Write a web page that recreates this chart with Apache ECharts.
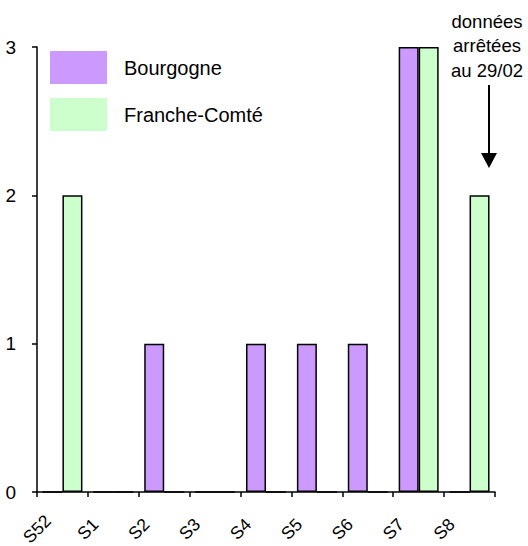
<!DOCTYPE html>
<html>
<head>
<meta charset="utf-8">
<script src="https://cdn.jsdelivr.net/npm/echarts@6/dist/echarts.min.js"></script>
<style>html,body{margin:0;padding:0;background:#fff}#c{width:528px;height:546px}</style>
</head>
<body>
<div id="c"></div>
<script>
var categories = ['S52','S1','S2','S3','S4','S5','S6','S7','S8'];
var tickLabels = ['S52','S1','S2','S3','S4','S5','S6','S7','S8',''];
var bourgogne = [0,0,1,0,1,1,1,3,0];
var francheComte = [2,0,0,0,0,0,0,3,2];
var yTicks = [0,1,2,3];
var note = 'données\narrêtées\nau 29/02';

var font = 'Liberation Sans, Arial, sans-serif';
var chart = echarts.init(document.getElementById('c'), null, {renderer:'svg'});
chart.setOption({
  animation:false,
  backgroundColor:'#fff',
  grid:{left:37,right:33,top:47,bottom:54,containLabel:false,outerBoundsMode:'none'},
  legend:{
    orient:'vertical', left:50, top:51, itemWidth:57, itemHeight:33, itemGap:14, padding:0,
    icon:'rect',
    itemStyle:{borderWidth:0},
    textStyle:{fontFamily:font,fontSize:20,color:'#000',padding:[0,0,0,12]},
    data:['Bourgogne','Franche-Comté']
  },
  xAxis:[{
    type:'category', data:categories, position:'bottom',
    axisLine:{lineStyle:{color:'#000',width:1.5}},
    axisTick:{show:true,length:5,lineStyle:{color:'#000',width:1.5},interval:0},
    axisLabel:{show:false}
  },{
    type:'category', data:tickLabels, position:'bottom', boundaryGap:false,
    axisLine:{show:false}, axisTick:{show:false},
    axisLabel:{interval:0,rotate:45,align:'center',verticalAlign:'middle',margin:37,
      fontFamily:font,fontSize:17.5,color:'#000'}
  }],
  yAxis:{
    type:'value', min:0, max:3, interval:1,
    axisLine:{show:true,lineStyle:{color:'#000',width:1.5}},
    axisTick:{show:true,length:5,lineStyle:{color:'#000',width:1.5}},
    splitLine:{show:false},
    axisLabel:{margin:21,fontFamily:font,fontSize:19,color:'#000',
      formatter:function(v){return yTicks.indexOf(v)>=0?String(v):'';}}
  },
  series:[{
    name:'Bourgogne', type:'bar', xAxisIndex:0, data:bourgogne, barWidth:20, barGap:'0%',
    itemStyle:{color:'#cc99ff',borderColor:'#000',borderWidth:1.5}
  },{
    name:'Franche-Comté', type:'bar', xAxisIndex:0, data:francheComte, barWidth:20, barGap:'0%',
    itemStyle:{color:'#ccffcc',borderColor:'#000',borderWidth:1.5}
  }],
  graphic:[
    {type:'text', x:487, y:9, style:{text:note, fontFamily:font, fontSize:18.5, lineHeight:24.5, fill:'#000', align:'center', verticalAlign:'top'}},
    {type:'line', shape:{x1:489,y1:85,x2:489,y2:156}, style:{stroke:'#000',lineWidth:2}},
    {type:'polygon', shape:{points:[[481,153],[497,153],[489,168]]}, style:{fill:'#000'}}
  ]
});
</script>
</body>
</html>
